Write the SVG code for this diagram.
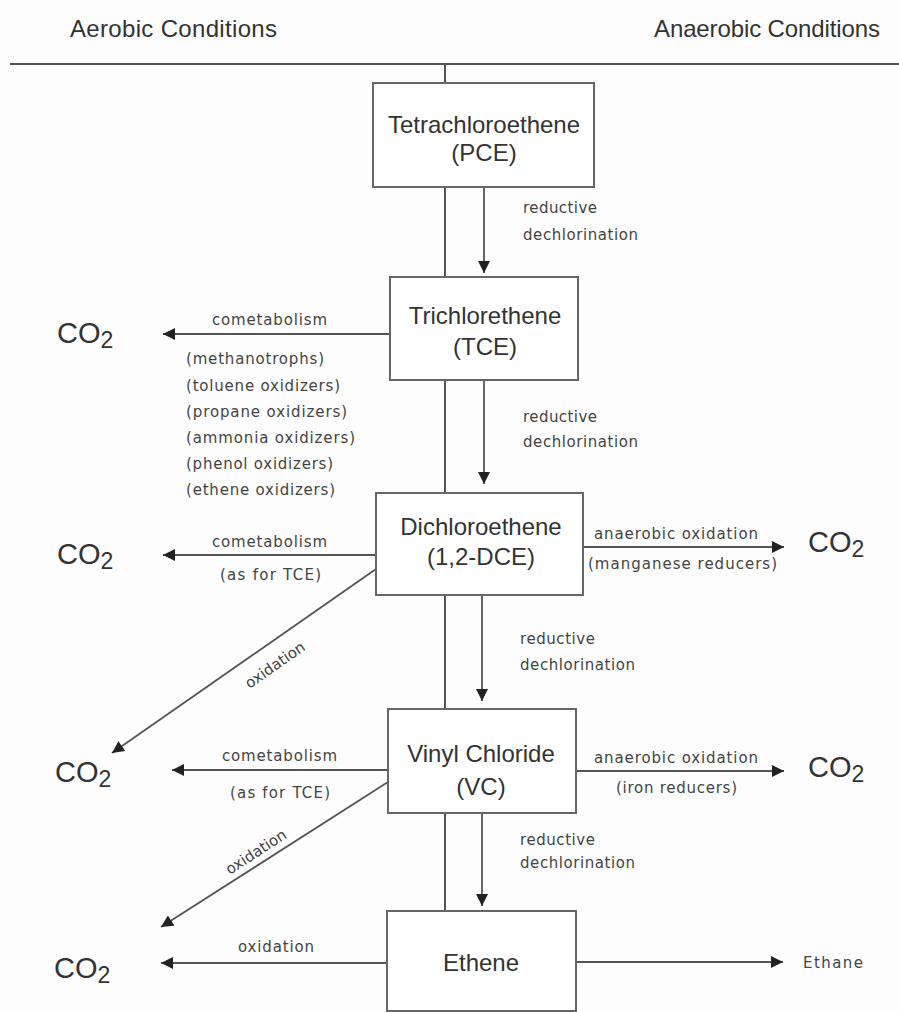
<svg xmlns="http://www.w3.org/2000/svg" width="899" height="1012" viewBox="0 0 899 1012">
<defs>
<style>
.hdr{font-family:"Liberation Sans",Arial,sans-serif;font-size:24px;fill:#333}
.box{fill:#fff;stroke:#666;stroke-width:2}
.bt{font-family:"Liberation Sans",Arial,sans-serif;font-size:24px;fill:#333;text-anchor:middle}
.lb{font-family:"DejaVu Sans",sans-serif;font-size:15px;fill:#444}
.co{font-family:"Liberation Sans",Arial,sans-serif;font-size:29px;fill:#333}
.sub{font-size:23px}
.ln{stroke:#555;stroke-width:2;fill:none}
.ar{stroke:#555;stroke-width:1.8;fill:none;marker-end:url(#ah)}
</style>
<marker id="ah" viewBox="0 0 10 10" refX="10" refY="5" markerWidth="13" markerHeight="12" markerUnits="userSpaceOnUse" orient="auto">
<path d="M0,0 L10,5 L0,10 z" fill="#222"/>
</marker>
</defs>
<rect width="899" height="1012" fill="#fdfdfd"/>
<text class="hdr" x="70" y="37" textLength="207">Aerobic Conditions</text>
<text class="hdr" x="654" y="37" textLength="226">Anaerobic Conditions</text>
<g id="connectors">
<line class="ln" x1="10" y1="64" x2="899" y2="64"/>
<line class="ln" x1="445" y1="64" x2="445" y2="1012"/>
<line class="ar" x1="484" y1="187" x2="484" y2="273"/>
<line class="ar" x1="484" y1="380" x2="484" y2="484"/>
<line class="ar" x1="482" y1="595" x2="482" y2="701"/>
<line class="ar" x1="482" y1="813" x2="482" y2="906"/>
<line class="ar" x1="390" y1="334" x2="163" y2="334"/>
<line class="ar" x1="376" y1="555" x2="163" y2="555"/>
<line class="ar" x1="388" y1="770" x2="172" y2="770"/>
<line class="ar" x1="387" y1="963" x2="161" y2="963"/>
<line class="ar" x1="583" y1="547" x2="784" y2="547"/>
<line class="ar" x1="576" y1="771" x2="784" y2="771"/>
<line class="ar" x1="576" y1="962" x2="783" y2="962"/>
<line class="ar" x1="376" y1="569" x2="112" y2="753"/>
<line class="ar" x1="388" y1="782" x2="161" y2="927"/>
<text class="lb" x="523" y="213" textLength="74">reductive</text>
<text class="lb" x="523" y="240" textLength="115">dechlorination</text>
<text class="lb" x="523" y="422" textLength="74">reductive</text>
<text class="lb" x="523" y="447" textLength="115">dechlorination</text>
<text class="lb" x="520" y="644" textLength="75">reductive</text>
<text class="lb" x="520" y="670" textLength="115">dechlorination</text>
<text class="lb" x="520" y="845" textLength="75">reductive</text>
<text class="lb" x="520" y="868" textLength="115">dechlorination</text>
<text class="lb" x="212" y="325" textLength="115">cometabolism</text>
<text class="lb" x="186" y="364" textLength="138">(methanotrophs)</text>
<text class="lb" x="186" y="391" textLength="154">(toluene oxidizers)</text>
<text class="lb" x="186" y="417" textLength="161">(propane oxidizers)</text>
<text class="lb" x="186" y="443" textLength="169">(ammonia oxidizers)</text>
<text class="lb" x="186" y="469" textLength="147">(phenol oxidizers)</text>
<text class="lb" x="186" y="495" textLength="149">(ethene oxidizers)</text>
<text class="lb" x="212" y="547" textLength="115">cometabolism</text>
<text class="lb" x="220" y="580" textLength="101">(as for TCE)</text>
<text class="lb" x="222" y="761" textLength="115">cometabolism</text>
<text class="lb" x="230" y="798" textLength="100">(as for TCE)</text>
<text class="lb" x="238" y="952" textLength="76">oxidation</text>
<text class="lb" x="594" y="539" textLength="164">anaerobic oxidation</text>
<text class="lb" x="588" y="569" textLength="189">(manganese reducers)</text>
<text class="lb" x="594" y="763" textLength="164">anaerobic oxidation</text>
<text class="lb" x="616" y="793" textLength="121">(iron reducers)</text>
<text class="lb" x="803" y="968" textLength="60">Ethane</text>
<text class="lb" text-anchor="middle" transform="translate(275,665) rotate(-35)" y="5">oxidation</text>
<text class="lb" text-anchor="middle" transform="translate(256,852) rotate(-33)" y="5">oxidation</text>
</g>
<g id="pce">
<rect class="box" x="373" y="83" width="221" height="104"/>
<text class="bt" x="484" y="133">Tetrachloroethene</text>
<text class="bt" x="484" y="161">(PCE)</text>
</g>
<g id="tce">
<rect class="box" x="390" y="277" width="188" height="103"/>
<text class="bt" x="485" y="324">Trichlorethene</text>
<text class="bt" x="485" y="355">(TCE)</text>
</g>
<g id="dce">
<rect class="box" x="376" y="493" width="207" height="102"/>
<text class="bt" x="481" y="535">Dichloroethene</text>
<text class="bt" x="481" y="565">(1,2-DCE)</text>
</g>
<g id="vc">
<rect class="box" x="388" y="709" width="188" height="104"/>
<text class="bt" x="481" y="762">Vinyl Chloride</text>
<text class="bt" x="481" y="795">(VC)</text>
</g>
<g id="ethene">
<rect class="box" x="387" y="911" width="189" height="100"/>
<text class="bt" x="481" y="971">Ethene</text>
</g>
<g id="co2-labels">
<text class="co" x="57" y="343">CO<tspan class="sub" dy="5">2</tspan></text>
<text class="co" x="57" y="564">CO<tspan class="sub" dy="5">2</tspan></text>
<text class="co" x="55" y="782">CO<tspan class="sub" dy="5">2</tspan></text>
<text class="co" x="54" y="978">CO<tspan class="sub" dy="5">2</tspan></text>
<text class="co" x="808" y="552">CO<tspan class="sub" dy="5">2</tspan></text>
<text class="co" x="808" y="777">CO<tspan class="sub" dy="5">2</tspan></text>
</g>
</svg>
